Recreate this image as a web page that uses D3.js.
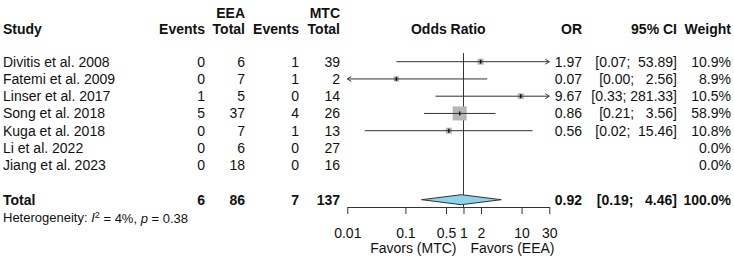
<!DOCTYPE html>
<html>
<head>
<meta charset="utf-8">
<script src="https://cdn.jsdelivr.net/npm/d3@7"></script>
<style>
  body { margin: 0; background: #fff; }
  text { font-family: "Liberation Sans", Arial, sans-serif; fill: #111; }
</style>
</head>
<body>
<div id="chart"></div>
<script>
// study data
const studies = ['Divitis et al. 2008', 'Fatemi et al. 2009', 'Linser et al. 2017', 'Song et al. 2018',
  'Kuga et al. 2018', 'Li et al. 2022', 'Jiang et al. 2023'];
const eeaEvents = [0, 0, 1, 5, 0, 0, 0];
const eeaTotal = [6, 7, 5, 37, 7, 6, 18];
const mtcEvents = [1, 1, 0, 4, 1, 0, 0];
const mtcTotal = [39, 2, 14, 26, 13, 27, 16];
const oddsRatio = [1.97, 0.07, 9.67, 0.86, 0.56, null, null];
const ciLower = [0.07, 0.00, 0.33, 0.21, 0.02, null, null];
const ciUpper = [53.89, 2.56, 281.33, 3.56, 15.46, null, null];
const weights = [10.9, 8.9, 10.5, 58.9, 10.8, 0.0, 0.0];

const totalRow = { eeaEvents: 6, eeaTotal: 86, mtcEvents: 7, mtcTotal: 137, or: 0.92, lower: 0.19, upper: 4.46, weight: 100.0 };
const heterogeneity = { i2: 4, p: 0.38 };
const axisTicks = [0.01, 0.1, 0.5, 1, 2, 10, 30];

const width = 734, height = 261;
const fs = 14;

const svg = d3.select('#chart').append('svg')
  .attr('width', width)
  .attr('height', height);

// row positions
const rowY = d3.scaleLinear().domain([0, 1]).range([61.7, 78.95]);
const totalY = rowY(8);
const headTop = 12.5, headBottom = 29;

// column anchors
const col = { study: 3, eeaEv: 205, eeaTot: 245, mtcEv: 299, mtcTot: 340, or: 582, ci: 677, weight: 731 };

const x = d3.scaleLog().domain([0.01, 30]).range([347.3, 549.3]);
const axisY = 207;

function txt(xp, yp, s, anchor, bold, size) {
  return svg.append('text')
    .attr('x', xp).attr('y', yp).attr('dy', '0.36em')
    .attr('text-anchor', anchor || 'start')
    .style('font-size', (size || fs) + 'px')
    .style('font-weight', bold ? 'bold' : 'normal')
    .style('white-space', 'pre')
    .text(s);
}

// headers
txt(col.study, headBottom, 'Study', 'start', true);
txt(col.eeaTot, headTop, 'EEA', 'end', true);
txt(col.mtcTot, headTop, 'MTC', 'end', true);
txt(col.eeaEv, headBottom, 'Events', 'end', true);
txt(col.eeaTot, headBottom, 'Total', 'end', true);
txt(col.mtcEv, headBottom, 'Events', 'end', true);
txt(col.mtcTot, headBottom, 'Total', 'end', true);
txt((x.range()[0] + x.range()[1]) / 2, headBottom, 'Odds Ratio', 'middle', true);
txt(col.or, headBottom, 'OR', 'end', true);
txt(col.ci, headBottom, '95% CI', 'end', true);
txt(col.weight, headBottom, 'Weight', 'end', true);

const ciText = (lo, hi) => `[${lo.toFixed(2)}; ${hi.toFixed(2).padStart(6, ' ')}]`;

// reference line at OR = 1
svg.append('line')
  .attr('x1', x(1)).attr('x2', x(1))
  .attr('y1', 53).attr('y2', axisY)
  .attr('stroke', '#333').attr('stroke-width', 1);

const maxSide = 14;
const maxW = d3.max(weights);

studies.forEach((s, i) => {
  const y = rowY(i);
  txt(col.study, y, s);
  txt(col.eeaEv, y, eeaEvents[i], 'end');
  txt(col.eeaTot, y, eeaTotal[i], 'end');
  txt(col.mtcEv, y, mtcEvents[i], 'end');
  txt(col.mtcTot, y, mtcTotal[i], 'end');
  txt(col.weight, y, weights[i].toFixed(1) + '%', 'end');
  if (oddsRatio[i] == null) return;
  txt(col.or, y, oddsRatio[i].toFixed(2), 'end');
  txt(col.ci, y, ciText(ciLower[i], ciUpper[i]), 'end');

  const [d0, d1] = x.domain();
  const lo = Math.max(ciLower[i], d0), hi = Math.min(ciUpper[i], d1);
  // square sized by weight
  const side = maxSide * Math.sqrt(weights[i] / maxW);
  svg.append('rect')
    .attr('x', x(oddsRatio[i]) - side / 2).attr('y', y - side / 2)
    .attr('width', side).attr('height', side)
    .attr('fill', '#b5b5b5');
  svg.append('line')
    .attr('x1', x(lo)).attr('x2', x(hi))
    .attr('y1', y).attr('y2', y)
    .attr('stroke', '#333').attr('stroke-width', 1);
  svg.append('line')
    .attr('x1', x(oddsRatio[i])).attr('x2', x(oddsRatio[i]))
    .attr('y1', y - 2).attr('y2', y + 2)
    .attr('stroke', '#111').attr('stroke-width', 1.5);
  // arrows where the interval leaves the axis range
  if (ciUpper[i] > d1) {
    const ax = x(d1);
    svg.append('path').attr('d', `M${ax - 4},${y - 2.5}L${ax},${y}L${ax - 4},${y + 2.5}`)
      .attr('fill', 'none').attr('stroke', '#333');
  }
  if (ciLower[i] < d0) {
    const ax = x(d0);
    svg.append('path').attr('d', `M${ax + 4},${y - 2.5}L${ax},${y}L${ax + 4},${y + 2.5}`)
      .attr('fill', 'none').attr('stroke', '#333');
  }
});

// total row
txt(col.study, totalY, 'Total', 'start', true);
txt(col.eeaEv, totalY, totalRow.eeaEvents, 'end', true);
txt(col.eeaTot, totalY, totalRow.eeaTotal, 'end', true);
txt(col.mtcEv, totalY, totalRow.mtcEvents, 'end', true);
txt(col.mtcTot, totalY, totalRow.mtcTotal, 'end', true);
txt(col.or, totalY, totalRow.or.toFixed(2), 'end', true);
txt(col.ci, totalY, ciText(totalRow.lower, totalRow.upper), 'end', true);
txt(col.weight, totalY, totalRow.weight.toFixed(1) + '%', 'end', true);

const dh = 5;
svg.append('path')
  .attr('d', `M${x(totalRow.lower)},${totalY}L${x(totalRow.or)},${totalY - dh}L${x(totalRow.upper)},${totalY}L${x(totalRow.or)},${totalY + dh}Z`)
  .attr('fill', '#8dd4e8').attr('stroke', '#333').attr('stroke-width', 1);

// heterogeneity
const het = svg.append('text')
  .attr('x', col.study).attr('y', totalY + 17.3).attr('dy', '0.36em')
  .style('font-size', '13px');
het.append('tspan').text('Heterogeneity: ');
het.append('tspan').style('font-style', 'italic').text('I');
het.append('tspan').attr('dy', '-0.45em').style('font-size', '9px').text('2');
het.append('tspan').attr('dy', '0.45em').text(` = ${heterogeneity.i2}%, `);
het.append('tspan').style('font-style', 'italic').text('p');
het.append('tspan').text(` = ${heterogeneity.p}`);

// x axis
const axisG = svg.append('g')
  .attr('transform', `translate(0,${axisY})`)
  .call(d3.axisBottom(x).tickValues(axisTicks).tickFormat(d => String(d))
    .tickSize(7).tickSizeOuter(0).tickPadding(14));
axisG.select('.domain').attr('stroke', '#333');
axisG.selectAll('.tick line').attr('stroke', '#333');
axisG.selectAll('.tick text')
  .style('font-size', fs + 'px')
  .style('font-family', '"Liberation Sans", Arial, sans-serif')
  .attr('fill', '#111');

txt(x(1) - 7, 248, 'Favors (MTC)', 'end');
txt(x(1) + 7, 248, 'Favors (EEA)', 'start');
</script>
</body>
</html>
